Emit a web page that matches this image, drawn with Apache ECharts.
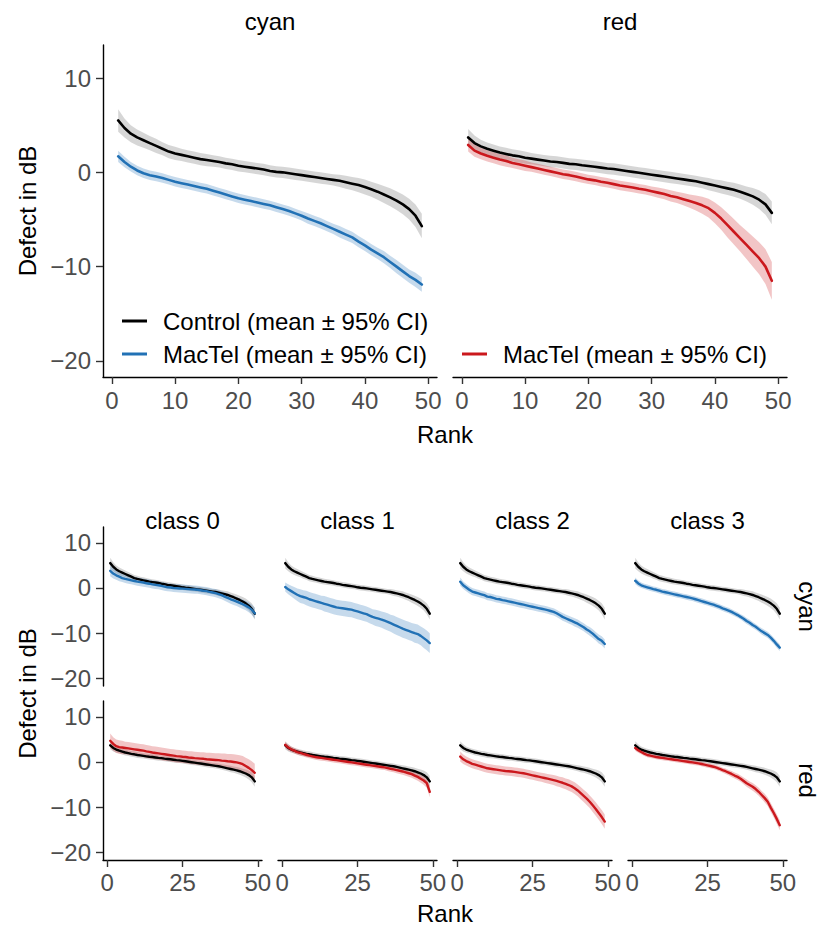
<!DOCTYPE html>
<html>
<head>
<meta charset="utf-8">
<script src="https://cdn.jsdelivr.net/npm/echarts@6/dist/echarts.min.js"></script>
<style>
  html, body { margin: 0; padding: 0; background: #fff; }
  #chart { width: 819px; height: 927px; }
</style>
</head>
<body>
<div id="chart"></div>
<script>
// Rank of the test location (sorted defect), shared by every panel
const rank = [1,2,3,4,5,6,7,8,9,10,11,12,13,14,15,16,17,18,19,20,21,22,23,24,25,
  26,27,28,29,30,31,32,33,34,35,36,37,38,39,40,41,42,43,44,45,46,47,48,49];

const xTicksTop = [0, 10, 20, 30, 40, 50];
const xTicksBottom = [0, 25, 50];
const yTicks = [-20, -10, 0, 10];

const channelNames = ['cyan', 'red'];
const classNames = ['class 0', 'class 1', 'class 2', 'class 3'];

// Control group, mean and 95% CI half-width (dB)
const ctlCyanMean = [5.5,4.7,4.1,3.7,3.4,3.1,2.8,2.5,2.2,2.0,1.85,1.7,1.55,1.4,1.3,1.2,1.1,0.95,0.85,0.7,
  0.6,0.5,0.4,0.3,0.15,0.05,0.0,-0.1,-0.2,-0.3,-0.4,-0.5,-0.6,-0.7,-0.8,-0.9,-1.05,-1.2,-1.35,-1.55,
  -1.8,-2.05,-2.35,-2.65,-3.0,-3.4,-3.9,-4.6,-5.7];
const ctlCyanCI = [1.2,1.0,0.9,0.85,0.8,0.75,0.75,0.7,0.7,0.7,0.65,0.65,0.65,0.65,0.65,0.6,0.6,0.6,0.6,0.6,
  0.6,0.6,0.6,0.6,0.6,0.6,0.6,0.6,0.6,0.6,0.6,0.6,0.6,0.6,0.6,0.65,0.7,0.7,0.75,0.8,
  0.8,0.85,0.9,0.95,1.0,1.05,1.1,1.2,1.3];
const ctlRedMean = [3.7,3.1,2.75,2.5,2.3,2.1,1.95,1.8,1.7,1.55,1.45,1.35,1.25,1.15,1.1,1.0,0.9,0.85,0.75,0.67,
  0.6,0.5,0.4,0.35,0.25,0.15,0.05,-0.05,-0.15,-0.25,-0.35,-0.45,-0.55,-0.65,-0.75,-0.85,-0.95,-1.1,-1.25,-1.4,
  -1.55,-1.7,-1.85,-2.05,-2.3,-2.55,-2.9,-3.4,-4.3];
const ctlRedCI = [0.9,0.8,0.7,0.65,0.65,0.65,0.65,0.65,0.65,0.65,0.6,0.6,0.6,0.6,0.6,0.6,0.6,0.6,0.6,0.6,
  0.6,0.6,0.6,0.6,0.6,0.6,0.6,0.6,0.6,0.6,0.6,0.6,0.6,0.6,0.6,0.6,0.6,0.6,0.65,0.65,
  0.7,0.7,0.75,0.75,0.8,0.9,1.0,1.1,1.2];

// MacTel, all classes pooled
const macCyanMean = [1.7,1.1,0.6,0.2,-0.1,-0.3,-0.45,-0.6,-0.8,-1.0,-1.15,-1.3,-1.45,-1.6,-1.75,-1.95,-2.15,-2.35,-2.55,-2.75,
  -2.9,-3.05,-3.2,-3.35,-3.5,-3.7,-3.9,-4.1,-4.35,-4.6,-4.9,-5.15,-5.4,-5.7,-6.0,-6.3,-6.6,-6.9,-7.35,-7.75,
  -8.2,-8.6,-9.0,-9.5,-10.0,-10.5,-11.0,-11.4,-11.9];
const macCyanCI = [0.6,0.55,0.5,0.5,0.5,0.5,0.5,0.5,0.5,0.5,0.5,0.5,0.5,0.5,0.5,0.5,0.5,0.5,0.5,0.5,
  0.5,0.5,0.5,0.5,0.5,0.5,0.5,0.5,0.5,0.5,0.55,0.55,0.55,0.55,0.55,0.6,0.6,0.6,0.6,0.6,
  0.6,0.6,0.65,0.65,0.7,0.7,0.7,0.75,0.75];
const macRedMean = [2.9,2.3,2.0,1.75,1.55,1.35,1.2,1.0,0.85,0.7,0.55,0.4,0.25,0.1,-0.05,-0.2,-0.3,-0.45,-0.6,-0.75,
  -0.85,-1.0,-1.1,-1.25,-1.4,-1.5,-1.6,-1.75,-1.85,-2.0,-2.15,-2.3,-2.5,-2.65,-2.85,-3.05,-3.25,-3.5,-3.8,-4.3,
  -4.9,-5.6,-6.3,-7.0,-7.7,-8.4,-9.1,-10.0,-11.5];
const macRedCI = [0.7,0.65,0.6,0.6,0.6,0.6,0.6,0.55,0.55,0.55,0.5,0.5,0.5,0.5,0.5,0.5,0.5,0.5,0.5,0.5,
  0.5,0.5,0.5,0.5,0.5,0.5,0.5,0.5,0.5,0.5,0.55,0.55,0.6,0.6,0.65,0.7,0.8,0.9,1.0,1.1,
  1.2,1.3,1.35,1.4,1.5,1.6,1.7,1.85,2.0];

// MacTel by disease class
const c0CyanMean = [3.8,3.2,2.8,2.5,2.2,2.0,1.85,1.7,1.55,1.4,1.3,1.2,1.05,0.95,0.8,0.7,0.6,0.45,0.3,0.15,
  0.1,0.0,-0.05,-0.1,-0.15,-0.2,-0.25,-0.3,-0.35,-0.4,-0.5,-0.6,-0.7,-0.85,-1.0,-1.15,-1.35,-1.6,-1.9,-2.2,
  -2.5,-2.75,-3.0,-3.3,-3.6,-3.9,-4.3,-4.8,-5.6];
const c0CyanCI = [1.2,1.1,1.0,1.0,0.9,0.9,0.9,0.9,0.9,0.9,0.9,0.9,0.9,0.9,0.9,0.9,0.9,0.9,0.9,0.9,
  0.9,0.9,0.9,0.9,0.9,0.9,0.9,0.9,0.9,0.9,0.9,0.9,0.9,0.9,0.9,0.9,0.9,0.9,0.95,0.95,
  1.0,1.0,1.0,1.0,1.05,1.05,1.1,1.1,1.2];
const c0RedMean = [4.7,4.0,3.5,3.3,3.2,3.1,3.0,2.9,2.8,2.7,2.6,2.5,2.35,2.25,2.1,2.0,1.9,1.8,1.7,1.6,
  1.5,1.4,1.3,1.25,1.15,1.1,1.0,0.95,0.85,0.8,0.75,0.7,0.6,0.55,0.5,0.45,0.4,0.3,0.25,0.15,
  0.1,0.0,-0.1,-0.25,-0.5,-0.9,-1.3,-1.8,-2.4];
const c0RedCI = [1.6,1.5,1.5,1.5,1.5,1.4,1.4,1.4,1.4,1.4,1.4,1.4,1.4,1.4,1.4,1.4,1.4,1.4,1.4,1.4,
  1.4,1.4,1.4,1.4,1.4,1.4,1.4,1.4,1.4,1.4,1.4,1.45,1.45,1.5,1.5,1.5,1.55,1.55,1.6,1.6,
  1.65,1.7,1.7,1.75,1.8,1.85,1.9,1.95,2.0];

const c1CyanMean = [0.2,-0.3,-0.7,-1.1,-1.5,-1.8,-2.0,-2.2,-2.5,-2.7,-2.9,-3.1,-3.3,-3.5,-3.7,-3.9,-4.1,-4.3,-4.4,-4.5,
  -4.6,-4.7,-4.8,-5.0,-5.2,-5.4,-5.6,-5.8,-6.1,-6.4,-6.6,-6.8,-7.0,-7.25,-7.5,-7.8,-8.1,-8.4,-8.7,-9.0,
  -9.25,-9.5,-9.75,-10.0,-10.2,-10.6,-11.1,-11.6,-12.2];
const c1CyanCI = [1.0,1.1,1.2,1.3,1.4,1.5,1.5,1.6,1.6,1.6,1.6,1.6,1.6,1.7,1.7,1.7,1.7,1.7,1.7,1.7,
  1.7,1.7,1.7,1.7,1.7,1.7,1.7,1.7,1.7,1.7,1.8,1.8,1.8,1.9,1.9,1.9,2.0,2.0,2.0,2.0,
  2.0,2.0,2.0,2.1,2.1,2.1,2.2,2.2,2.2];
const c1RedMean = [3.8,3.2,2.8,2.5,2.2,2.0,1.8,1.6,1.4,1.25,1.1,1.0,0.9,0.8,0.7,0.6,0.5,0.4,0.3,0.2,
  0.1,0.0,-0.1,-0.2,-0.3,-0.4,-0.5,-0.6,-0.7,-0.8,-0.9,-1.0,-1.1,-1.2,-1.35,-1.5,-1.65,-1.8,-1.95,-2.1,
  -2.3,-2.5,-2.7,-3.0,-3.3,-3.7,-4.1,-4.7,-6.6];
const c1RedCI = [0.7,0.65,0.6,0.6,0.6,0.6,0.6,0.6,0.6,0.6,0.6,0.6,0.6,0.6,0.6,0.6,0.6,0.6,0.6,0.6,
  0.6,0.6,0.6,0.6,0.6,0.6,0.6,0.6,0.6,0.6,0.6,0.6,0.6,0.6,0.65,0.65,0.65,0.7,0.7,0.7,
  0.75,0.75,0.8,0.8,0.85,0.9,0.95,1.0,1.2];

const c2CyanMean = [1.4,0.6,0.1,-0.4,-0.8,-1.0,-1.2,-1.4,-1.6,-1.9,-2.0,-2.2,-2.4,-2.5,-2.7,-2.8,-2.95,-3.1,-3.25,-3.4,
  -3.55,-3.7,-3.85,-4.0,-4.15,-4.3,-4.45,-4.6,-4.75,-4.9,-5.1,-5.3,-5.6,-6.0,-6.4,-6.7,-7.0,-7.3,-7.6,-7.9,
  -8.3,-8.7,-9.2,-9.6,-10.1,-10.7,-11.3,-11.7,-12.4];
const c2CyanCI = [0.9,0.85,0.8,0.8,0.8,0.8,0.8,0.8,0.8,0.8,0.8,0.8,0.8,0.8,0.8,0.8,0.8,0.8,0.8,0.8,
  0.8,0.8,0.8,0.8,0.8,0.8,0.8,0.8,0.8,0.8,0.8,0.8,0.8,0.8,0.85,0.85,0.85,0.85,0.9,0.9,
  0.9,0.9,0.9,0.95,0.95,0.95,1.0,1.0,1.0];
const c2RedMean = [1.2,0.6,0.2,-0.1,-0.4,-0.6,-0.8,-1.0,-1.2,-1.4,-1.5,-1.6,-1.7,-1.8,-1.9,-2.0,-2.05,-2.1,-2.2,-2.3,
  -2.4,-2.5,-2.65,-2.8,-2.95,-3.1,-3.25,-3.4,-3.55,-3.7,-3.85,-4.0,-4.2,-4.4,-4.6,-4.85,-5.1,-5.4,-5.8,-6.3,
  -6.9,-7.5,-8.1,-8.8,-9.6,-10.4,-11.3,-12.2,-13.2];
const c2RedCI = [1.1,1.05,1.0,1.0,1.0,1.0,1.0,1.0,1.0,1.0,1.0,1.0,1.0,1.0,1.0,1.0,1.0,1.0,1.0,1.0,
  1.0,1.0,1.0,1.0,1.0,1.0,1.0,1.0,1.05,1.05,1.1,1.1,1.15,1.15,1.2,1.2,1.25,1.25,1.3,1.3,
  1.35,1.35,1.4,1.4,1.45,1.5,1.5,1.55,1.6];

const c3CyanMean = [1.6,1.0,0.6,0.35,0.15,-0.05,-0.25,-0.4,-0.6,-0.8,-0.95,-1.1,-1.25,-1.4,-1.55,-1.7,-1.85,-2.0,-2.15,-2.3,
  -2.5,-2.7,-2.9,-3.1,-3.3,-3.5,-3.7,-3.95,-4.2,-4.5,-4.75,-5.0,-5.3,-5.65,-6.0,-6.4,-6.8,-7.3,-7.7,-8.2,
  -8.6,-9.1,-9.6,-10.0,-10.4,-11.0,-11.7,-12.5,-13.2];
const c3CyanCI = [0.7,0.65,0.6,0.6,0.6,0.6,0.6,0.6,0.6,0.6,0.6,0.6,0.6,0.6,0.6,0.6,0.6,0.6,0.6,0.6,
  0.6,0.6,0.6,0.6,0.6,0.6,0.6,0.6,0.6,0.6,0.6,0.6,0.6,0.6,0.6,0.6,0.65,0.65,0.65,0.65,
  0.65,0.65,0.7,0.7,0.7,0.7,0.7,0.75,0.75];
const c3RedMean = [3.1,2.6,2.2,1.85,1.55,1.4,1.25,1.1,1.0,0.9,0.8,0.7,0.6,0.5,0.4,0.3,0.2,0.1,0.0,-0.1,
  -0.2,-0.3,-0.45,-0.6,-0.75,-0.9,-1.05,-1.25,-1.5,-1.8,-2.05,-2.35,-2.65,-3.0,-3.3,-3.7,-4.2,-4.7,-5.1,-5.5,
  -6.0,-6.6,-7.3,-8.0,-8.8,-10.1,-11.3,-12.6,-14.0];
const c3RedCI = [0.6,0.55,0.5,0.5,0.5,0.5,0.5,0.5,0.5,0.5,0.5,0.5,0.5,0.5,0.5,0.5,0.5,0.5,0.5,0.5,
  0.5,0.5,0.5,0.5,0.5,0.5,0.5,0.5,0.55,0.55,0.6,0.6,0.65,0.65,0.7,0.7,0.75,0.8,0.8,0.85,
  0.85,0.9,0.9,0.95,0.95,1.0,1.0,1.05,1.1];

const legendControl = 'Control (mean \u00b1 95% CI)';
const legendMacTel = 'MacTel (mean \u00b1 95% CI)';

// ---------------------------------------------------------------------------
const FONT = '"Liberation Sans", Arial, Helvetica, sans-serif';
const FS = 24;
const LABEL_COLOR = '#4d4d4d';
const COLORS = {
  control: { line: '#000000', band: 'rgba(0,0,0,0.16)' },
  cyan:    { line: '#2171b5', band: 'rgba(33,113,181,0.26)' },
  red:     { line: '#cb181d', band: 'rgba(203,24,29,0.25)' }
};
const Y_MIN = -21.7, Y_MAX = 13.5, X_MIN = -1.4, X_MAX = 51.4;

const controls = {
  cyan: { mean: ctlCyanMean, ci: ctlCyanCI },
  red:  { mean: ctlRedMean,  ci: ctlRedCI }
};
const pooled = {
  cyan: { mean: macCyanMean, ci: macCyanCI },
  red:  { mean: macRedMean,  ci: macRedCI }
};
const byClass = {
  cyan: [
    { mean: c0CyanMean, ci: c0CyanCI }, { mean: c1CyanMean, ci: c1CyanCI },
    { mean: c2CyanMean, ci: c2CyanCI }, { mean: c3CyanMean, ci: c3CyanCI }
  ],
  red: [
    { mean: c0RedMean, ci: c0RedCI }, { mean: c1RedMean, ci: c1RedCI },
    { mean: c2RedMean, ci: c2RedCI }, { mean: c3RedMean, ci: c3RedCI }
  ]
};

// Panel layout (pixels)
const TOP = { top: 45, height: 332, lefts: [103, 453], width: 334 };
const BOT = { tops: [527, 701], height: 159, lefts: [103, 278, 453, 628], width: 159 };

const panels = [];
channelNames.forEach((ch, i) => {
  panels.push({
    grid: { left: TOP.lefts[i], top: TOP.top, width: TOP.width, height: TOP.height },
    channel: ch, ctl: controls[ch], mac: pooled[ch],
    xTicks: xTicksTop, showY: i === 0, showX: true, xMargin: 11
  });
});
channelNames.forEach((ch, r) => {
  classNames.forEach((cl, c) => {
    panels.push({
      grid: { left: BOT.lefts[c], top: BOT.tops[r], width: BOT.width, height: BOT.height },
      channel: ch, ctl: controls[ch], mac: byClass[ch][c],
      xTicks: xTicksBottom, showY: c === 0, showX: r === 1, xMargin: 10
    });
  });
});

function bandSeries(idx, grp, fill) {
  const lo = grp.mean.map((m, i) => m - grp.ci[i]);
  const hi = grp.mean.map((m, i) => m + grp.ci[i]);
  return {
    type: 'custom', xAxisIndex: idx, yAxisIndex: idx, silent: true, z: 1,
    data: rank.map((r, i) => [r, lo[i], hi[i]]),
    encode: { x: 0, y: [1, 2] },
    renderItem: function (params, api) {
      if (params.dataIndex !== 0) return;
      const pts = [];
      for (let i = 0; i < rank.length; i++) pts.push(api.coord([rank[i], hi[i]]));
      for (let i = rank.length - 1; i >= 0; i--) pts.push(api.coord([rank[i], lo[i]]));
      return { type: 'polygon', shape: { points: pts }, style: { fill: fill, stroke: null } };
    }
  };
}

function lineSeries(idx, grp, color, name, width) {
  return {
    type: 'line', name: name, xAxisIndex: idx, yAxisIndex: idx, z: 3,
    data: rank.map((r, i) => [r, grp.mean[i]]),
    showSymbol: false, symbol: 'none', silent: true, animation: false,
    lineStyle: { color: color, width: width, join: 'round', cap: 'round' }
  };
}

const grids = [], xAxes = [], yAxes = [], series = [];
panels.forEach((p, idx) => {
  grids.push(Object.assign({ containLabel: false }, p.grid));
  xAxes.push({
    type: 'value', gridIndex: idx, min: X_MIN, max: X_MAX,
    axisLine: { show: p.showX, onZero: false, lineStyle: { color: '#000', width: 1.4 } },
    axisTick: { show: p.showX, length: 7, customValues: p.xTicks, lineStyle: { color: '#333', width: 1.4 } },
    axisLabel: { show: p.showX, customValues: p.xTicks, color: LABEL_COLOR, fontSize: FS, fontFamily: FONT, margin: p.xMargin },
    splitLine: { show: false }
  });
  yAxes.push({
    type: 'value', gridIndex: idx, min: Y_MIN, max: Y_MAX,
    axisLine: { show: p.showY, onZero: false, lineStyle: { color: '#000', width: 1.4 } },
    axisTick: { show: p.showY, length: 7, customValues: yTicks, lineStyle: { color: '#333', width: 1.4 } },
    axisLabel: {
      show: p.showY, customValues: yTicks, color: LABEL_COLOR, fontSize: FS, fontFamily: FONT, margin: 12,
      formatter: v => (v < 0 ? '\u2212' + Math.abs(v) : String(v))
    },
    splitLine: { show: false }
  });
  const lw = idx < 2 ? 2.6 : 2.4;
  series.push(bandSeries(idx, p.ctl, COLORS.control.band));
  series.push(bandSeries(idx, p.mac, COLORS[p.channel].band));
  series.push(lineSeries(idx, p.ctl, COLORS.control.line, legendControl, lw));
  series.push(lineSeries(idx, p.mac, COLORS[p.channel].line, legendMacTel, lw));
});

// Text elements: strip titles, axis titles, legend
function txt(text, x, y, opts) {
  opts = opts || {};
  return {
    type: 'text', x: x, y: y, rotation: opts.rotation || 0, silent: true,
    style: {
      text: text, fill: opts.fill || '#000', font: FS + 'px ' + FONT,
      align: opts.align || 'center', verticalAlign: 'middle',
      textAlign: opts.align || 'center', textVerticalAlign: 'middle'
    }
  };
}
function seg(x1, x2, y, color) {
  return { type: 'line', silent: true, shape: { x1: x1, y1: y, x2: x2, y2: y },
    style: { stroke: color, lineWidth: 3 } };
}

const graphics = [];
channelNames.forEach((ch, i) => {
  graphics.push(txt(ch, TOP.lefts[i] + TOP.width / 2, 21));
});
classNames.forEach((cl, c) => {
  graphics.push(txt(cl, BOT.lefts[c] + BOT.width / 2, 520));
});
channelNames.forEach((ch, r) => {
  graphics.push(txt(ch, 807, BOT.tops[r] + BOT.height / 2, { rotation: -Math.PI / 2 }));
});
graphics.push(txt('Defect in dB', 27, TOP.top + TOP.height / 2, { rotation: Math.PI / 2 }));
graphics.push(txt('Defect in dB', 27, (BOT.tops[0] + BOT.tops[1] + BOT.height) / 2, { rotation: Math.PI / 2 }));
graphics.push(txt('Rank', 445, 434));
graphics.push(txt('Rank', 445, 913));

// Legend inside the top panels
graphics.push(seg(122, 147, 321, COLORS.control.line));
graphics.push(txt(legendControl, 163, 321, { align: 'left' }));
graphics.push(seg(122, 147, 354, COLORS.cyan.line));
graphics.push(txt(legendMacTel, 163, 354, { align: 'left' }));
graphics.push(seg(462, 487, 354, COLORS.red.line));
graphics.push(txt(legendMacTel, 503, 354, { align: 'left' }));

const chart = echarts.init(document.getElementById('chart'), null, { renderer: 'svg' });
chart.setOption({
  animation: false,
  backgroundColor: '#ffffff',
  textStyle: { fontFamily: FONT },
  grid: grids,
  xAxis: xAxes,
  yAxis: yAxes,
  series: series,
  graphic: { elements: graphics }
});
</script>
</body>
</html>
